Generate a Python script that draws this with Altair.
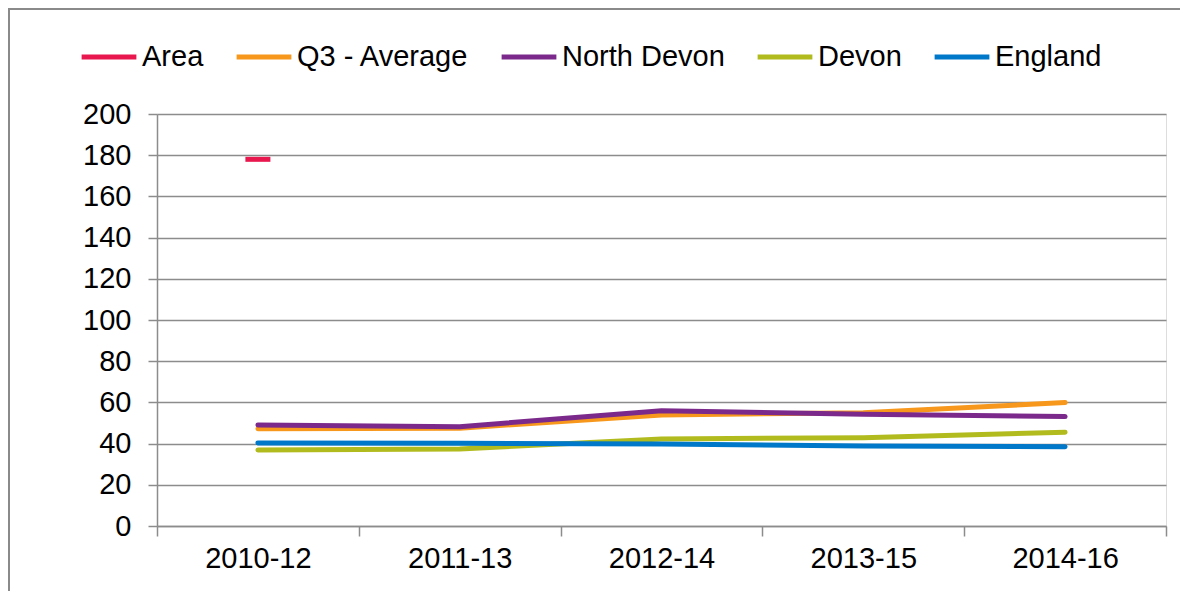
import altair as alt
import pandas as pd

periods = ["2010-12", "2011-13", "2012-14", "2013-15", "2014-16"]
series_names = ["Area", "Q3 - Average", "North Devon", "Devon", "England"]
series_colors = ["#E8184F", "#F7981D", "#7B2A8B", "#B2BB1E", "#0078C9"]

area_vals = [178, None, None, None, None]
q3_vals = [47.2, 47.5, 53.9, 55.0, 59.9]
north_devon_vals = [49.0, 48.2, 56.0, 54.2, 53.1]
devon_vals = [36.9, 37.4, 42.2, 42.9, 45.5]
england_vals = [40.3, 40.2, 39.8, 38.8, 38.5]

all_vals = [area_vals, q3_vals, north_devon_vals, devon_vals, england_vals]
rows = []
for si, (name, vals) in enumerate(zip(series_names, all_vals)):
    for pi, (p, v) in enumerate(zip(periods, vals)):
        if v is not None:
            rows.append({"period": p, "idx": pi, "series": name, "value": v})
df = pd.DataFrame(rows)
df_lines = df[df["series"] != "Area"]
df_area = df[df["series"] == "Area"]

FONT = "Liberation Sans"
GRID = "#8C8C8C"
FS = 29

x_enc = alt.X("period:N", sort=periods, title=None,
              scale=alt.Scale(paddingInner=0, paddingOuter=0),
              axis=alt.Axis(labelAngle=0, labelFontSize=FS, labelFont=FONT,
                            labelColor="#000000", labelPadding=8,
                            tickBand="extent", tickSize=10, tickColor=GRID,
                            tickWidth=1.5, domainColor=GRID, domainWidth=1.5,
                            grid=False))
y_enc = alt.Y("value:Q", title=None,
              scale=alt.Scale(domain=[0, 200], nice=False, zero=True),
              axis=alt.Axis(values=list(range(0, 201, 20)), labelFontSize=FS,
                            labelFont=FONT, labelColor="#000000",
                            labelPadding=17, tickSize=9, tickColor=GRID,
                            tickWidth=1.5, domainColor=GRID, domainWidth=1.5,
                            grid=True, gridColor=GRID, gridWidth=1.5))
color_scale = alt.Scale(domain=series_names, range=series_colors)

lines = alt.Chart(df_lines).mark_line(strokeWidth=5, strokeCap="round",
                                       strokeJoin="round").encode(
    x=x_enc,
    y=y_enc,
    color=alt.Color("series:N", scale=color_scale, sort=series_names,
                    legend=alt.Legend(title=None, orient="none",
                                      direction="horizontal",
                                      legendX=-78, legendY=-87,
                                      symbolType="stroke",
                                      symbolSize=3000, symbolStrokeWidth=5,
                                      labelFontSize=FS, labelFont=FONT,
                                      labelColor="#000000", labelOffset=3,
                                      labelLimit=0,
                                      columnPadding=22, symbolOffset=0)),
    order=alt.Order("idx:Q"),
)

area_tick = alt.Chart(df_area).mark_tick(
    size=25, thickness=5, orient="horizontal", opacity=1).encode(
    x=alt.X("period:N", sort=periods),
    y=alt.Y("value:Q"),
    color=alt.Color("series:N", scale=color_scale, legend=None),
)

frame_left = alt.Chart(df_area).mark_rule(color="#8A8A8A", strokeWidth=2).encode(
    x=alt.value(-148), y=alt.value(-106), y2=alt.value(480))
frame_top = alt.Chart(df_area).mark_rule(color="#8A8A8A", strokeWidth=2).encode(
    x=alt.value(-149), x2=alt.value(1030), y=alt.value(-105))

chart = alt.layer(lines, area_tick, frame_left, frame_top).properties(
    width=1009, height=412,
    autosize=alt.AutoSizeParams(type="none"),
    padding={"left": 149, "top": 106, "right": 14, "bottom": 68},
).configure_view(stroke=None).configure(font=FONT)

chart.save("out.html", embed_options={"renderer": "svg", "actions": False})
